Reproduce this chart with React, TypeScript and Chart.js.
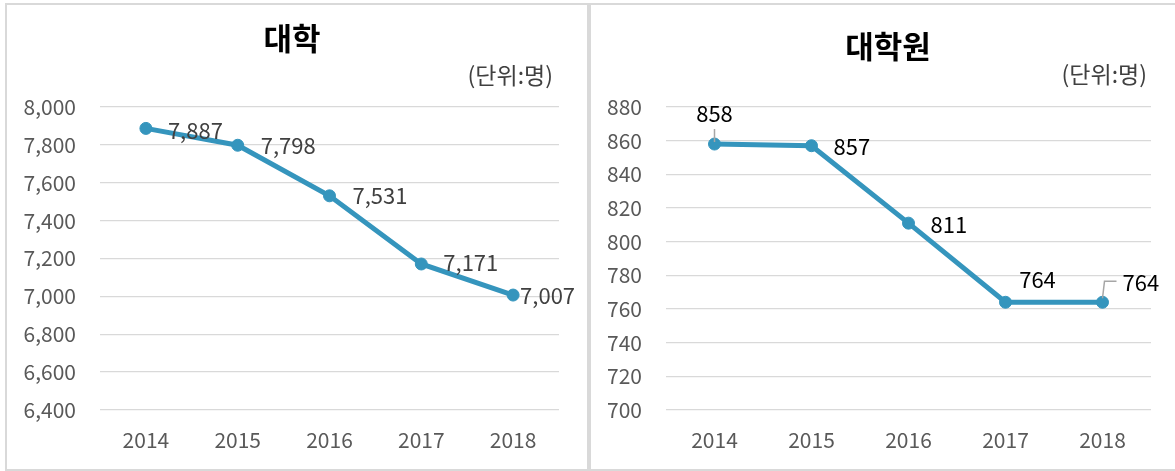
import React, { useEffect, useRef } from "react";
import { Chart, registerables } from "chart.js";

Chart.register(...registerables);

const years = ["2014", "2015", "2016", "2017", "2018"];
const univValues = [7887, 7798, 7531, 7171, 7007];
const gradValues = [858, 857, 811, 764, 764];
const univTitle = "대학";
const gradTitle = "대학원";
const unitText = "(단위:명)";
const univAxis = { min: 6400, max: 8000, step: 200 };
const gradAxis = { min: 700, max: 880, step: 20 };

const FONT = "'Noto Sans CJK KR', 'Noto Sans', sans-serif";
const LINE = "#3595BD";

type LabelStyle = { dx: number; dy: number; align: CanvasTextAlign; leader?: number[][] };

// label placement styles (offsets relative to each point)
const univLabelStyles: LabelStyle[] = [
  { dx: 22, dy: 2, align: "left" },
  { dx: 23, dy: 0, align: "left" },
  { dx: 23, dy: 0, align: "left" },
  { dx: 22, dy: -1, align: "left" },
  { dx: 7, dy: 1, align: "left" },
];
const gradLabelStyles: LabelStyle[] = [
  { dx: 0, dy: -30, align: "center", leader: [[0, -15], [0, -2]] },
  { dx: 22, dy: 1, align: "left" },
  { dx: 22, dy: 1, align: "left" },
  { dx: 32, dy: -23, align: "center" },
  { dx: 20, dy: -20, align: "left", leader: [[14, -21], [2, -21], [0, -4]] },
];

type PanelProps = {
  values: number[];
  axis: { min: number; max: number; step: number };
  title: string;
  titleX: number;
  titleY: number;
  unitRight: number;
  unitY: number;
  width: number;
  height: number;
  yWidth: number;
  padRight: number;
  labelColor: string;
  labelSize: number;
  labelStyles: LabelStyle[];
};

function Panel(p: PanelProps) {
  const ref = useRef<HTMLCanvasElement | null>(null);
  useEffect(() => {
    const canvas = ref.current;
    if (!canvas) return;
    const textPlugin = {
      id: "panelText",
      afterDraw(chart: any) {
        const ctx = chart.ctx;
        ctx.save();
        ctx.fillStyle = "#000";
        ctx.font = `bold 31px ${FONT}`;
        ctx.textAlign = "center";
        ctx.textBaseline = "middle";
        ctx.fillText(p.title, p.titleX, p.titleY);
        ctx.font = `23px ${FONT}`;
        ctx.fillStyle = "#404040";
        ctx.textAlign = "right";
        ctx.fillText(unitText, p.unitRight, p.unitY);
        // data labels
        const meta = chart.getDatasetMeta(0);
        meta.data.forEach((pt: any, i: number) => {
          const st = p.labelStyles[i];
          const v = chart.data.datasets[0].data[i] as number;
          if (st.leader) {
            ctx.strokeStyle = "#a6a6a6";
            ctx.lineWidth = 1.5;
            ctx.beginPath();
            st.leader.forEach((q, k) => {
              if (k === 0) ctx.moveTo(pt.x + q[0], pt.y + q[1]);
              else ctx.lineTo(pt.x + q[0], pt.y + q[1]);
            });
            ctx.stroke();
          }
          ctx.fillStyle = p.labelColor;
          ctx.font = `${p.labelSize}px ${FONT}`;
          ctx.textAlign = st.align;
          ctx.textBaseline = "middle";
          ctx.fillText(v.toLocaleString("en-US"), pt.x + st.dx, pt.y + st.dy);
        });
        ctx.restore();
      },
    };
    const chart = new Chart(canvas, {
      type: "line",
      data: {
        labels: years,
        datasets: [
          {
            data: p.values,
            borderColor: LINE,
            backgroundColor: LINE,
            borderWidth: 5,
            pointRadius: 6,
            pointBorderWidth: 1,
            pointBackgroundColor: LINE,
            pointBorderColor: LINE,
            tension: 0,
          },
        ],
      },
      options: {
        responsive: false,
        animation: false,
        devicePixelRatio: 1,
        layout: { padding: { top: 102, right: p.padRight, left: 0, bottom: 0 } },
        plugins: { legend: { display: false }, tooltip: { enabled: false } },
        scales: {
          x: {
            type: "category",
            offset: true,
            grid: { display: false, drawTicks: false },
            border: { display: false },
            ticks: { color: "#595959", font: { family: FONT, size: 21 }, padding: 17 },
            afterFit: (s: any) => {
              s.height = 59;
            },
          },
          y: {
            min: p.axis.min,
            max: p.axis.max,
            grid: { color: "#d9d9d9", lineWidth: 1.3, drawTicks: false },
            border: { display: false },
            ticks: {
              stepSize: p.axis.step,
              color: "#595959",
              font: { family: FONT, size: 21 },
              padding: 24,
              callback: (v: any) => Number(v).toLocaleString("en-US"),
            },
            afterFit: (s: any) => {
              s.width = p.yWidth;
            },
          },
        },
      },
      plugins: [textPlugin],
    } as any);
    return () => chart.destroy();
  }, []);
  return <canvas ref={ref} width={p.width} height={p.height} style={{ display: "block" }} />;
}

export default function App() {
  const box: React.CSSProperties = {
    position: "absolute",
    top: 3,
    height: 468,
    border: "2px solid #d9d9d9",
    boxSizing: "border-box",
    background: "#fff",
  };
  return (
    <div style={{ position: "fixed", left: 0, top: 0, width: 1175, height: 471, overflow: "hidden", background: "#fff" }}>
      <div style={{ ...box, left: 5, width: 584 }}>
        <Panel
          values={univValues}
          axis={univAxis}
          title={univTitle}
          titleX={285}
          titleY={33}
          unitRight={546}
          unitY={70}
          width={580}
          height={464}
          yWidth={93}
          padRight={28}
          labelColor="#404040"
          labelSize={22}
          labelStyles={univLabelStyles}
        />
      </div>
      <div style={{ ...box, left: 589, width: 590 }}>
        <Panel
          values={gradValues}
          axis={gradAxis}
          title={gradTitle}
          titleX={297}
          titleY={41}
          unitRight={556}
          unitY={69}
          width={586}
          height={464}
          yWidth={75}
          padRight={26}
          labelColor="#000"
          labelSize={22}
          labelStyles={gradLabelStyles}
        />
      </div>
    </div>
  );
}
